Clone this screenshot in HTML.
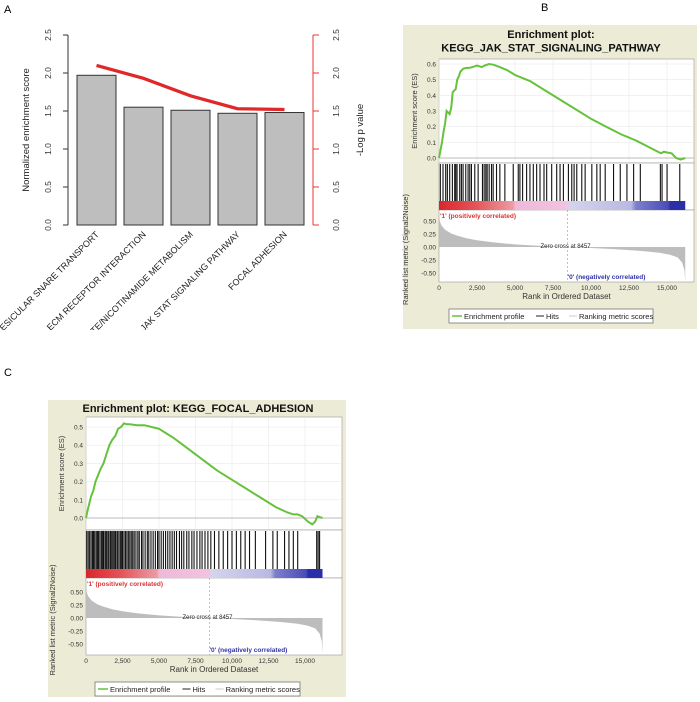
<!DOCTYPE html>
<html><head><meta charset="utf-8"><style>
html,body{margin:0;padding:0;background:#fff;}
svg{display:block;font-family:"Liberation Sans",Arial,sans-serif;}
</style></head><body>
<svg id="fig" width="700" height="702" viewBox="0 0 700 702" xmlns="http://www.w3.org/2000/svg">
<defs>
<clipPath id="clipA"><rect x="0" y="0" width="380" height="330"/></clipPath>
<linearGradient id="rb" x1="0" x2="1" y1="0" y2="0">
<stop offset="0" stop-color="#d9262b"/><stop offset="0.15" stop-color="#e4555a"/><stop offset="0.3" stop-color="#ee9aa3"/><stop offset="0.31" stop-color="#f0b8d8"/><stop offset="0.52" stop-color="#f2c2e0"/><stop offset="0.53" stop-color="#d4d4ee"/><stop offset="0.78" stop-color="#b8b8e2"/><stop offset="0.8" stop-color="#7d7fcc"/><stop offset="0.93" stop-color="#4a4db8"/><stop offset="0.94" stop-color="#2a2ea8"/><stop offset="1" stop-color="#2a2ea8"/>
</linearGradient>
</defs>
<text x="4" y="13" font-size="11">A</text>
<text x="541" y="11" font-size="11">B</text>
<text x="4" y="376" font-size="11">C</text>
<g id="panelA" clip-path="url(#clipA)"></g>
<g id="panelB"></g>
<g id="panelC"></g>
</svg>
<script>
// ---------- Panel A data ----------
const categories = ["VESICULAR SNARE TRANSPORT","ECM RECEPTOR INTERACTION","NICOTINATE/NICOTINAMIDE METABOLISM","JAK STAT SIGNALING PATHWAY","FOCAL ADHESION"];
const nesValues = [1.97, 1.55, 1.51, 1.47, 1.48];
const logPValues = [2.1, 1.93, 1.7, 1.53, 1.52];
const leftTicks = [0, 0.5, 1, 1.5, 2, 2.5];
const rightTicks = [0, 0.5, 1, 1.5, 2, 2.5];

// ---------- Panel B data ----------
const jakRanks = [0,100,200,300,400,500,600,700,800,900,1000,1100,1200,1300,1400,1600,1800,2000,2200,2500,2800,3000,3300,3600,4000,4500,5000,5500,6000,7000,8000,9000,10000,11000,12000,12500,13000,14000,14600,14800,15000,15300,15600,15900,16200];
const jakES = [0,0.05,0.1,0.17,0.22,0.3,0.29,0.28,0.32,0.42,0.43,0.44,0.5,0.52,0.55,0.57,0.575,0.575,0.58,0.59,0.58,0.59,0.6,0.595,0.58,0.56,0.53,0.51,0.49,0.43,0.37,0.31,0.25,0.2,0.15,0.13,0.11,0.06,0.03,0.04,0.035,0.03,0.0,-0.01,0];
const jakHits = [88,264,440,550,704,880,1034,1100,1188,1364,1474,1584,1760,1914,2024,2134,2354,2574,2860,2970,3080,3168,3300,3454,3564,3784,4004,4334,4884,5214,5324,5500,5764,5984,6204,6424,6644,6908,7084,7414,7744,7964,8184,8514,8734,8888,9064,9394,9614,10054,10384,10604,10934,11484,11924,12364,12804,13244,14564,14674,15004,15840];

// ---------- Panel C data ----------
const faRanks = [0,100,200,350,500,650,800,1000,1200,1400,1600,1800,2000,2200,2400,2600,2800,3000,3500,4000,4500,5000,5500,6000,7000,8000,9000,10000,11000,12000,13000,13800,14200,14500,14800,15200,15500,15700,15850,16000,16200];
const faES = [0,0.04,0.07,0.12,0.15,0.2,0.23,0.27,0.3,0.35,0.4,0.43,0.45,0.49,0.5,0.52,0.515,0.515,0.51,0.51,0.5,0.49,0.465,0.44,0.38,0.32,0.26,0.21,0.16,0.11,0.06,0.03,0.02,0.02,0.01,-0.02,-0.035,-0.02,0.01,0.005,0];
const faHits = [50,150,250,350,450,520,600,700,780,850,950,1050,1120,1200,1300,1380,1450,1550,1650,1720,1800,1900,1980,2050,2150,2250,2350,2420,2500,2600,2700,2800,2900,3000,3100,3200,3300,3420,3550,3650,3800,3900,4050,4200,4300,4450,4600,4750,4900,5000,5150,5300,5450,5600,5750,5900,6050,6200,6400,6550,6700,6900,7050,7250,7400,7600,7800,7950,8150,8350,8550,8800,9100,9400,9700,10000,10300,10600,10900,11200,11600,12300,12800,13100,13600,13900,14200,14500,15800,15900,16000];

// ---------- Shared ranked-list metric ----------
const metricRanks = [0,50,150,400,800,1200,1800,2500,3500,5000,6500,8457,10000,11500,12500,13500,14500,15200,15700,16000,16150,16200];
const metricValues = [0.62,0.5,0.42,0.33,0.26,0.22,0.17,0.13,0.09,0.05,0.025,0,-0.02,-0.04,-0.06,-0.08,-0.11,-0.15,-0.2,-0.3,-0.45,-0.68];
const xTicks = [0,2500,5000,7500,10000,12500,15000];
const xTickLabels = ["0","2,500","5,000","7,500","10,000","12,500","15,000"];
const metricTicks = [0.5,0.25,0,-0.25,-0.5];
const metricTickLabels = ["0.50","0.25","0.00","-0.25","-0.50"];
const zeroCross = 8457;
const NS = "http://www.w3.org/2000/svg";
function mk(tag, attrs, parent, txt){
  const e = document.createElementNS(NS, tag);
  for (const k in attrs) e.setAttribute(k, attrs[k]);
  if (txt !== undefined) e.textContent = txt;
  parent.appendChild(e);
  return e;
}

// ---------- Panel A ----------
(function(){
  const g = document.getElementById('panelA');
  const y0 = 225, yTop = 35, maxV = 2.5;
  const yL = v => y0 - (v/maxV)*(y0-yTop);
  const barX0 = 77, step = 47, bw = 39;
  const cx = i => barX0 + i*step + bw/2;
  let ax = mk('line',{x1:68,y1:yL(0),x2:68,y2:yL(2.5),stroke:'#333','stroke-width':1},g);
  
  
  leftTicks.forEach(t=>{
    mk('line',{x1:63,y1:yL(t),x2:68,y2:yL(t),stroke:'#333'},g);
    const tl = mk('text',{x:0,y:0,'font-size':8.5,fill:'#333','text-anchor':'middle',transform:`translate(51,${yL(t)}) rotate(-90)`},g,t.toFixed(1));
    
    
  });
  const lt = mk('text',{x:0,y:0,'font-size':9.5,fill:'#222','text-anchor':'middle',transform:`translate(29,130) rotate(-90)`},g,'Normalized enrichment score');
  
  
  const ra = mk('line',{x1:313,y1:yL(0),x2:313,y2:yL(2.5),stroke:'#e33','stroke-width':1},g);
  
  
  rightTicks.forEach(t=>{
    mk('line',{x1:313,y1:yL(t),x2:319,y2:yL(t),stroke:'#e33'},g);
    const tl = mk('text',{x:0,y:0,'font-size':8.5,fill:'#333','text-anchor':'middle',transform:`translate(339,${yL(t)}) rotate(-90)`},g,t.toFixed(1));
    
    
  });
  const rt = mk('text',{x:0,y:0,'font-size':9.5,fill:'#222','text-anchor':'middle',transform:`translate(363,130) rotate(-90)`},g,'-Log p value');
  
  
  nesValues.forEach((v,i)=>{
    const b = mk('rect',{x:barX0+i*step,y:yL(v),width:bw,height:yL(0)-yL(v),fill:'#bebebe',stroke:'#333','stroke-width':1},g);
    
    
    const lab = mk('text',{x:0,y:0,'font-size':9,fill:'#222','text-anchor':'end',transform:`translate(${cx(i)+3},${y0+10}) rotate(-45)`},g,categories[i]);
    
    
  });
  const pl = mk('polyline',{points:logPValues.map((v,i)=>cx(i)+','+yL(v)).join(' '),fill:'none',stroke:'#e0282a','stroke-width':3.2},g);
  
  
})();

// ---------- GSEA panel ----------
function gsea(g, c, ranks, es, hits){
  const maxRank = 16200;
  const X = r => c.x0 + (r/15000)*(c.x15k - c.x0);
  const Y = v => c.esZero - (v/c.esTopVal)*(c.esZero - c.esTopY);
  const M = v => c.m0 - (v/0.5)*(c.m0 - c.m05);
  const bg = mk('rect',{x:c.bx,y:c.by,width:c.bw,height:c.bh,fill:'#ecebd6'},g);
  
  
  c.title.forEach((t,i)=>{
    const tt = mk('text',{x:c.tx,y:c.ty+i*13.5,'font-size':11,'font-weight':'bold',fill:'#111','text-anchor':'middle'},g,t);
    
    
  });
  const pr = c.pr;
  mk('rect',{x:c.x0,y:c.esTop,width:pr-c.x0,height:c.esBot-c.esTop,fill:'#fff',stroke:'#999','stroke-width':0.6},g);
  mk('rect',{x:c.x0,y:c.esBot,width:pr-c.x0,height:c.cbBot-c.esBot,fill:'#fff',stroke:'#999','stroke-width':0.6},g);
  mk('rect',{x:c.x0,y:c.cbBot,width:pr-c.x0,height:c.mBot-c.cbBot,fill:'#fff',stroke:'#999','stroke-width':0.6},g);
  xTicks.forEach(t=>{ mk('line',{x1:X(t),y1:c.esTop,x2:X(t),y2:c.esBot,stroke:'#e6e6e6','stroke-width':0.5},g); });
  c.esTicks.forEach(t=>{
    mk('line',{x1:c.x0,y1:Y(t),x2:pr,y2:Y(t),stroke:t===0?'#bbb':'#e6e6e6','stroke-width':t===0?1:0.5},g);
    mk('text',{x:c.x0-3,y:Y(t)+2.5,'font-size':6.5,fill:'#333','text-anchor':'end'},g,t.toFixed(1));
  });
  const yl = mk('text',{x:0,y:0,'font-size':7.5,fill:'#333','text-anchor':'middle',transform:`translate(${c.x0-22},${(c.esTop+c.esBot)/2}) rotate(-90)`},g,'Enrichment score (ES)');
  
  
  const curve = mk('polyline',{points:ranks.map((r,i)=>X(r).toFixed(1)+','+Y(es[i]).toFixed(1)).join(' '),fill:'none',stroke:'#66c23a','stroke-width':2},g);
  
  
  hits.forEach(h=>{
    const hl = mk('line',{x1:X(h),y1:c.esBot+1,x2:X(h),y2:c.cbTop,stroke:'#111','stroke-width':1.1},g);
    
    
  });
  const cb = mk('rect',{x:c.x0,y:c.cbTop,width:X(maxRank)-c.x0,height:c.cbBot-c.cbTop,fill:'url(#rb)'},g);
  
  
  mk('text',{x:c.x0+1,y:c.cbBot+8,'font-size':6.5,fill:'#d33','font-weight':'bold'},g,"'1' (positively correlated)");
  const pts = metricRanks.map((r,i)=>X(r).toFixed(1)+','+M(metricValues[i]).toFixed(1));
  const area = mk('polygon',{points:X(0)+','+M(0)+' '+pts.join(' ')+' '+X(maxRank)+','+M(0),fill:'#bdbdbd'},g);
  
  
  mk('line',{x1:X(zeroCross),y1:c.cbBot,x2:X(zeroCross),y2:c.mBot,stroke:'#999','stroke-width':0.6,'stroke-dasharray':'2,2'},g);
  mk('text',{x:X(zeroCross)-2,y:M(0)+1,'font-size':6,fill:'#222','text-anchor':'middle'},g,'Zero cross at '+zeroCross);
  mk('text',{x:X(zeroCross),y:c.mBot-3,'font-size':6.5,fill:'#33a','font-weight':'bold'},g,"'0' (negatively correlated)");
  metricTicks.forEach((t,i)=>{ mk('text',{x:c.x0-3,y:M(t)+2.5,'font-size':6.5,fill:'#333','text-anchor':'end'},g,metricTickLabels[i]); });
  const ml = mk('text',{x:0,y:0,'font-size':7.5,fill:'#333','text-anchor':'middle',transform:`translate(${c.x0-31},${(c.cbTop+c.mBot)/2+8}) rotate(-90)`},g,'Ranked list metric (Signal2Noise)');
  
  
  xTicks.forEach((t,i)=>{ mk('text',{x:X(t),y:c.mBot+8,'font-size':6.5,fill:'#333','text-anchor':'middle'},g,xTickLabels[i]); });
  const xl = mk('text',{x:(c.x0+pr)/2,y:c.mBot+17,'font-size':8,fill:'#333','text-anchor':'middle'},g,'Rank in Ordered Dataset');
  
  
  const lg = mk('g',{},g);
  
  
  mk('rect',{x:c.lx,y:c.ly,width:c.lw,height:14,fill:'#fff',stroke:'#666','stroke-width':0.7},lg);
  const s = c.lw/204;
  mk('line',{x1:c.lx+3,y1:c.ly+7,x2:c.lx+13,y2:c.ly+7,stroke:'#66c23a','stroke-width':1.5},lg);
  mk('text',{x:c.lx+15,y:c.ly+10,'font-size':7.5,fill:'#222'},lg,'Enrichment profile');
  mk('line',{x1:c.lx+87*s,y1:c.ly+7,x2:c.lx+95*s,y2:c.ly+7,stroke:'#222','stroke-width':1},lg);
  mk('text',{x:c.lx+97*s,y:c.ly+10,'font-size':7.5,fill:'#222'},lg,'Hits');
  mk('line',{x1:c.lx+120*s,y1:c.ly+7,x2:c.lx+128*s,y2:c.ly+7,stroke:'#ccc','stroke-width':1},lg);
  mk('text',{x:c.lx+130*s,y:c.ly+10,'font-size':7.5,fill:'#222'},lg,'Ranking metric scores');
}

gsea(document.getElementById('panelB'),{
  bx:403,by:25,bw:294,bh:304,
  title:['Enrichment plot:','KEGG_JAK_STAT_SIGNALING_PATHWAY'],tx:551,ty:38,
  x0:439,x15k:667,pr:694,
  esTop:59,esBot:163,esZero:158,esTopY:64,esTopVal:0.6,esTicks:[0,0.1,0.2,0.3,0.4,0.5,0.6],
  cbTop:201,cbBot:210,m0:247,m05:221,mBot:282,
  lx:449,ly:309,lw:204
}, jakRanks, jakES, jakHits);

gsea(document.getElementById('panelC'),{
  bx:48,by:400,bw:298,bh:297,
  title:['Enrichment plot: KEGG_FOCAL_ADHESION'],tx:198,ty:412,
  x0:86,x15k:305,pr:342,
  esTop:417,esBot:530,esZero:518,esTopY:427,esTopVal:0.5,esTicks:[0,0.1,0.2,0.3,0.4,0.5],
  cbTop:569,cbBot:578,m0:618,m05:592,mBot:655,
  lx:95,ly:682,lw:205
}, faRanks, faES, faHits);
</script>
</body></html>
